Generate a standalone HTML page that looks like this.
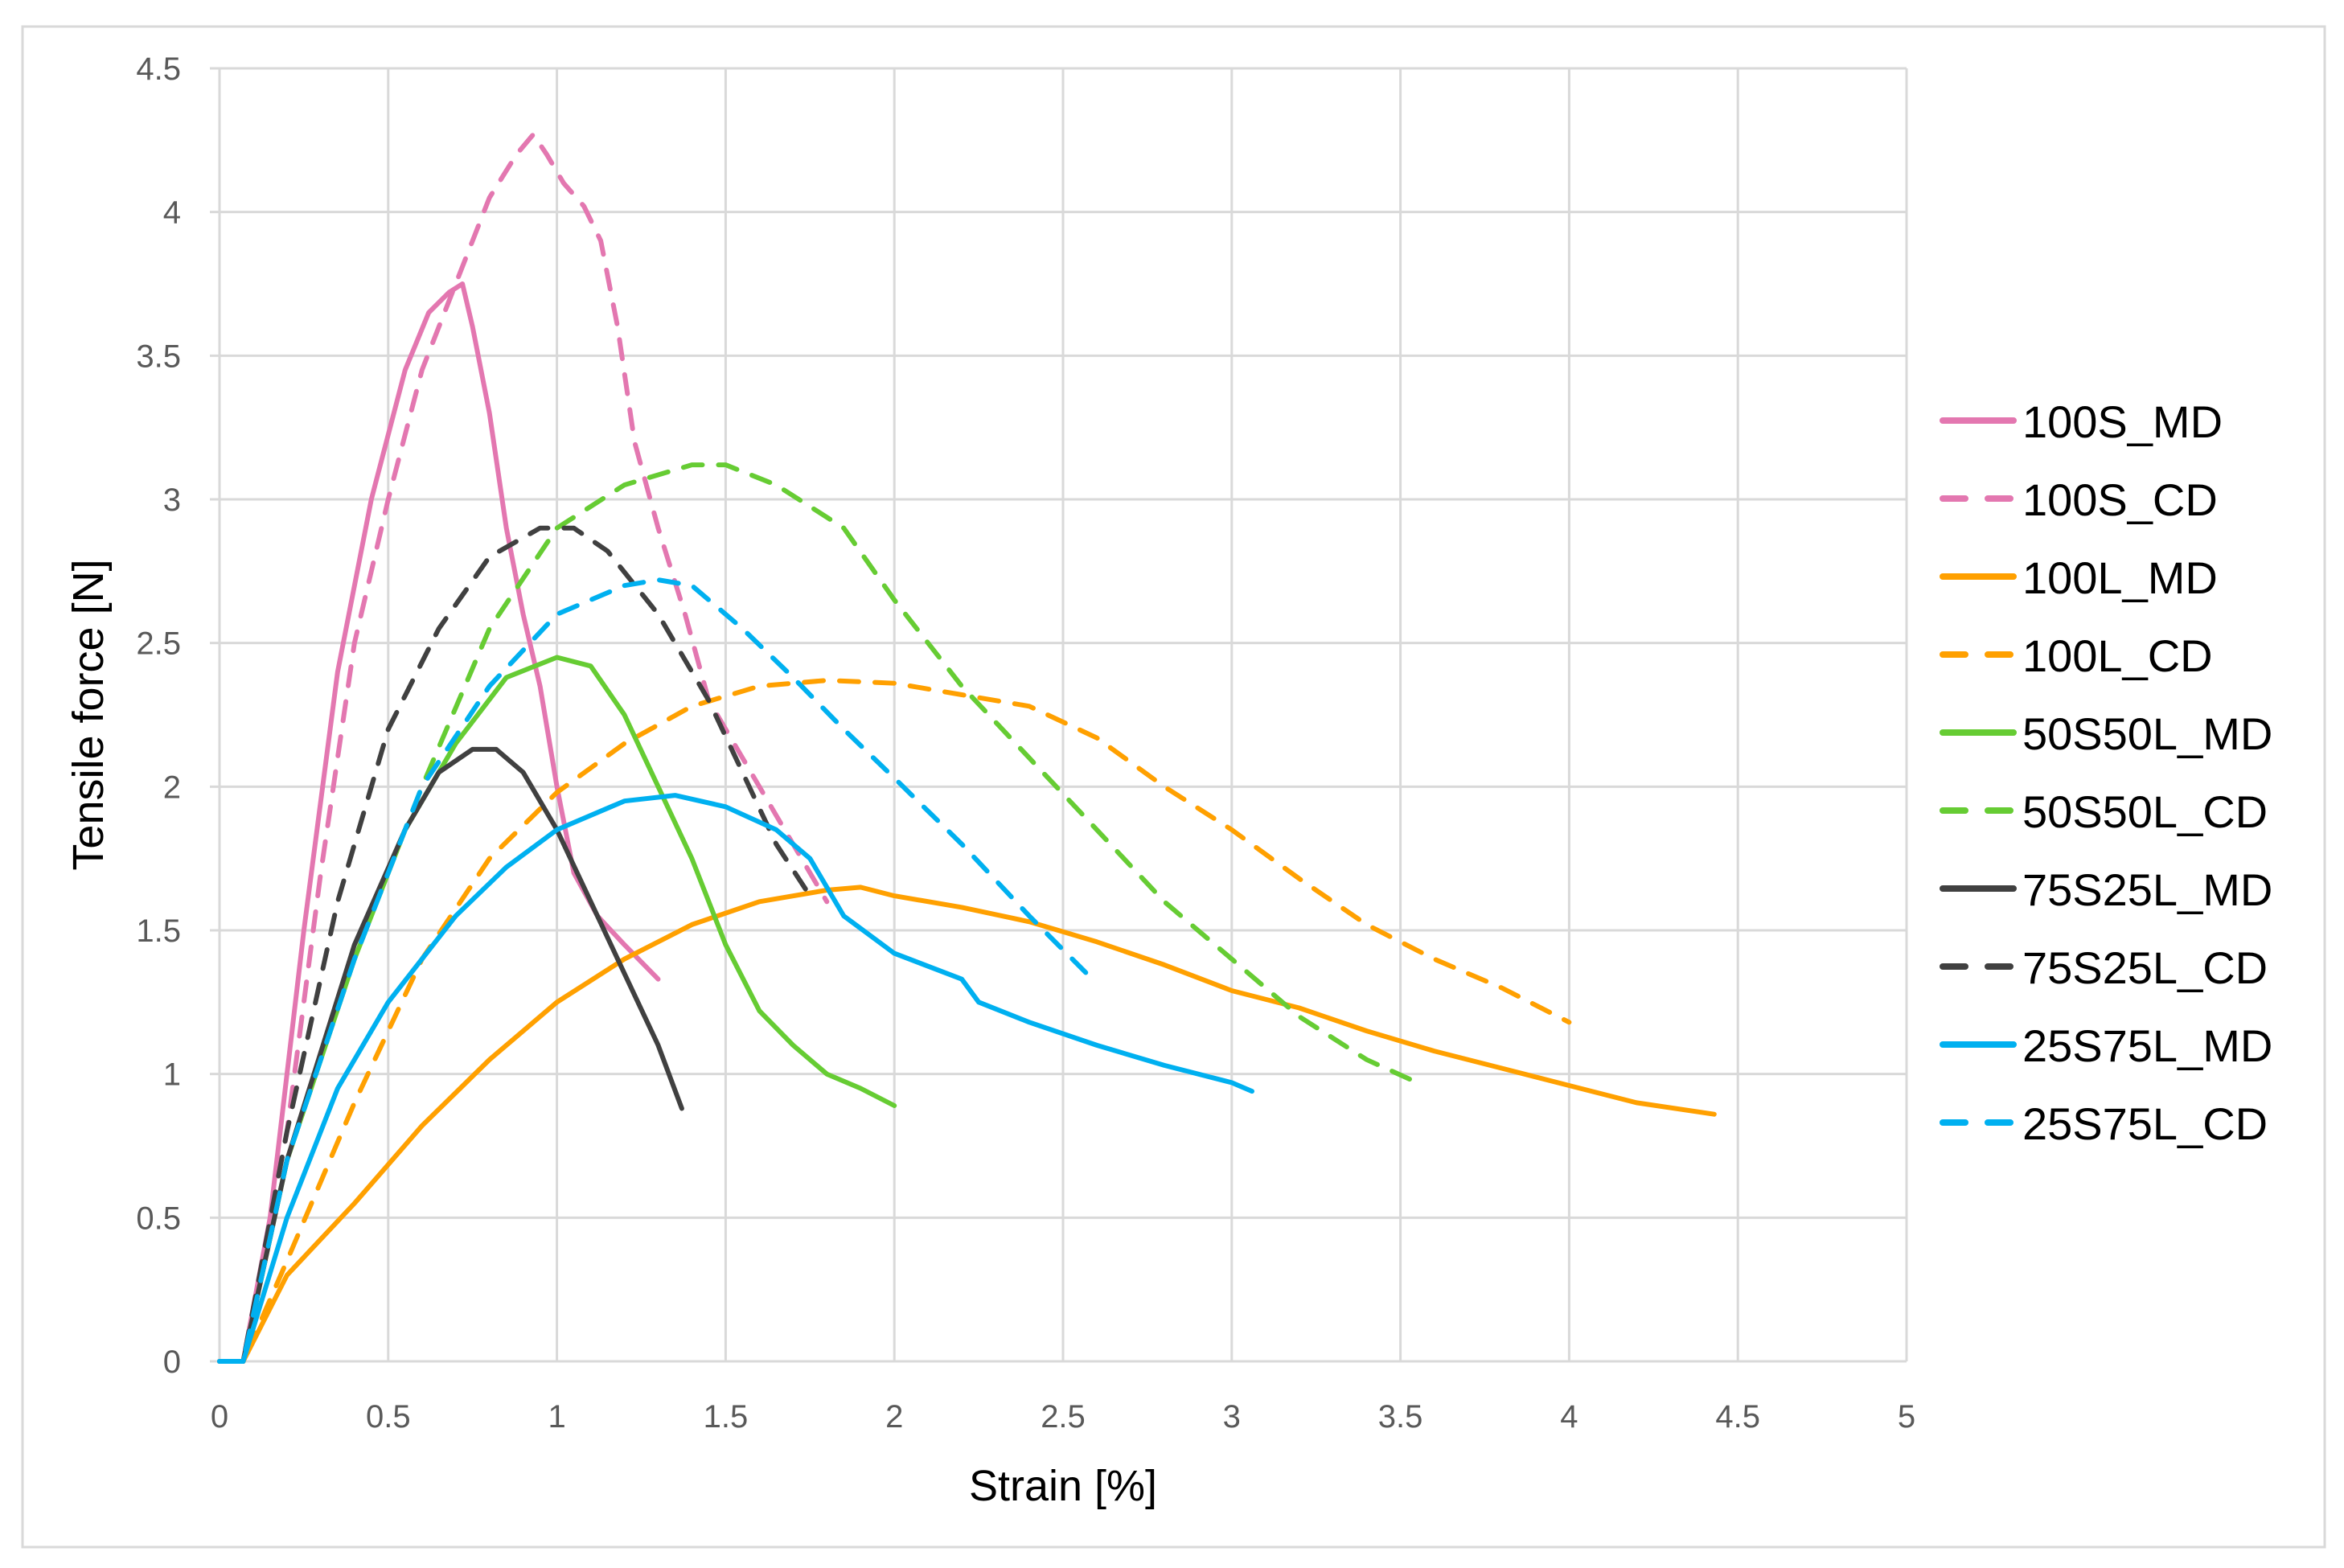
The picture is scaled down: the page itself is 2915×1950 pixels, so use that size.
<!DOCTYPE html>
<html><head><meta charset="utf-8"><style>
html,body{margin:0;padding:0;background:#fff;}
svg{display:block;font-family:"Liberation Sans",sans-serif;}
</style></head><body>
<svg id="chart" width="2915" height="1950" viewBox="0 0 2915 1950" xmlns="http://www.w3.org/2000/svg">
<rect x="28" y="33" width="2863" height="1891" fill="#fff" stroke="#d9d9d9" stroke-width="3"/>
<g id="grid"></g>
<g id="series"></g>
<g id="ticks"></g>
<g id="legend"></g>
<text transform="translate(128,889) rotate(-90)" text-anchor="middle" font-size="54" fill="#000">Tensile force [N]</text>
<text x="1322" y="1866" text-anchor="middle" font-size="54" fill="#000">Strain [%]</text>
</svg>
<script>
const xTicks=[0,0.5,1,1.5,2,2.5,3,3.5,4,4.5,5];
const yTicks=[0,0.5,1,1.5,2,2.5,3,3.5,4,4.5];
const seriesNames=["100S_MD","100S_CD","100L_MD","100L_CD","50S50L_MD","50S50L_CD","75S25L_MD","75S25L_CD","25S75L_MD","25S75L_CD"];
const s100S_MD_x=[0,0.07,0.15,0.25,0.35,0.45,0.55,0.62,0.68,0.72,0.75,0.8,0.85,0.9,0.95,1.0,1.05,1.12,1.2,1.3];
const s100S_MD_y=[0,0,0.5,1.5,2.4,3.0,3.45,3.65,3.72,3.75,3.6,3.3,2.9,2.6,2.35,2.0,1.7,1.55,1.45,1.33];
const s100S_CD_x=[0,0.07,0.2,0.3,0.4,0.5,0.6,0.7,0.8,0.88,0.93,0.97,1.02,1.08,1.13,1.18,1.23,1.3,1.38,1.45,1.55,1.65,1.75,1.8];
const s100S_CD_y=[0,0,0.8,1.7,2.5,3.0,3.45,3.75,4.05,4.2,4.27,4.2,4.1,4.02,3.9,3.6,3.2,2.9,2.6,2.3,2.1,1.9,1.7,1.6];
const s100L_MD_x=[0,0.07,0.2,0.4,0.6,0.8,1.0,1.2,1.4,1.6,1.8,1.9,2.0,2.2,2.4,2.6,2.8,3.0,3.2,3.4,3.6,3.8,4.0,4.2,4.43];
const s100L_MD_y=[0,0,0.3,0.55,0.82,1.05,1.25,1.4,1.52,1.6,1.64,1.65,1.62,1.58,1.53,1.46,1.38,1.29,1.23,1.15,1.08,1.02,0.96,0.9,0.86];
const s100L_CD_x=[0,0.07,0.2,0.4,0.6,0.8,1.0,1.2,1.4,1.6,1.8,2.0,2.2,2.4,2.6,2.8,3.0,3.2,3.4,3.6,3.8,4.0];
const s100L_CD_y=[0,0,0.35,0.9,1.4,1.75,1.98,2.15,2.28,2.35,2.37,2.36,2.32,2.28,2.17,2.0,1.85,1.68,1.52,1.4,1.3,1.18];
const s50S50L_MD_x=[0,0.07,0.2,0.4,0.55,0.7,0.85,1.0,1.1,1.2,1.3,1.4,1.5,1.6,1.7,1.8,1.9,2.0];
const s50S50L_MD_y=[0,0,0.7,1.4,1.85,2.15,2.38,2.45,2.42,2.25,2.0,1.75,1.45,1.22,1.1,1.0,0.95,0.89];
const s50S50L_CD_x=[0,0.07,0.2,0.4,0.6,0.8,1.0,1.2,1.4,1.5,1.65,1.85,2.0,2.2,2.4,2.6,2.8,3.0,3.2,3.4,3.55];
const s50S50L_CD_y=[0,0,0.7,1.4,2.0,2.55,2.9,3.05,3.12,3.12,3.05,2.9,2.65,2.35,2.1,1.85,1.6,1.4,1.2,1.05,0.97];
const s75S25L_MD_x=[0,0.07,0.2,0.4,0.55,0.65,0.75,0.82,0.9,1.0,1.1,1.2,1.3,1.37];
const s75S25L_MD_y=[0,0,0.7,1.45,1.85,2.05,2.13,2.13,2.05,1.85,1.6,1.35,1.1,0.88];
const s75S25L_CD_x=[0,0.07,0.2,0.35,0.5,0.65,0.8,0.95,1.05,1.15,1.3,1.45,1.55,1.65,1.75];
const s75S25L_CD_y=[0,0,0.8,1.6,2.2,2.55,2.8,2.9,2.9,2.82,2.6,2.3,2.05,1.8,1.62];
const s25S75L_MD_x=[0,0.07,0.2,0.35,0.5,0.7,0.85,1.0,1.2,1.35,1.5,1.65,1.75,1.85,2.0,2.2,2.25,2.4,2.6,2.8,3.0,3.06];
const s25S75L_MD_y=[0,0,0.5,0.95,1.25,1.55,1.72,1.85,1.95,1.97,1.93,1.85,1.75,1.55,1.42,1.33,1.25,1.18,1.1,1.03,0.97,0.94];
const s25S75L_CD_x=[0,0.07,0.2,0.4,0.6,0.8,1.0,1.2,1.3,1.4,1.55,1.7,1.85,2.0,2.2,2.4,2.57];
const s25S75L_CD_y=[0,0,0.7,1.4,2.0,2.35,2.6,2.7,2.72,2.7,2.55,2.38,2.2,2.03,1.8,1.55,1.35];

const X0=273,X1=2371,Y0=1693,Y1=85;
function sx(v){return X0+(v/5)*(X1-X0);}
function sy(v){return Y0-(v/4.5)*(Y0-Y1);}
const NS="http://www.w3.org/2000/svg";
function mk(tag,attrs,parent){const e=document.createElementNS(NS,tag);for(const k in attrs)e.setAttribute(k,attrs[k]);parent.appendChild(e);return e;}
const grid=document.getElementById('grid'),ticks=document.getElementById('ticks'),ser=document.getElementById('series'),leg=document.getElementById('legend');
xTicks.forEach(t=>{
 const l=mk('line',{x1:sx(t),x2:sx(t),y1:Y1,y2:Y0,stroke:'#d9d9d9','stroke-width':3},grid);
 
 
 const tx=mk('text',{x:sx(t),y:1775,'text-anchor':'middle','font-size':40,fill:'#595959'},ticks);
 tx.textContent=String(t);
 
 
});
yTicks.forEach(t=>{
 const l=mk('line',{x1:X0-12,x2:X1,y1:sy(t),y2:sy(t),stroke:'#d9d9d9','stroke-width':3},grid);
 
 
 const tx=mk('text',{x:225,y:sy(t)+14,'text-anchor':'end','font-size':40,fill:'#595959'},ticks);
 tx.textContent=String(t);
 
 
});
const series=[
 [s100S_MD_x,s100S_MD_y,'#e377b0',false],
 [s100S_CD_x,s100S_CD_y,'#e377b0',true],
 [s100L_MD_x,s100L_MD_y,'#ffa000',false],
 [s100L_CD_x,s100L_CD_y,'#ffa000',true],
 [s50S50L_MD_x,s50S50L_MD_y,'#66cc33',false],
 [s50S50L_CD_x,s50S50L_CD_y,'#66cc33',true],
 [s75S25L_MD_x,s75S25L_MD_y,'#404040',false],
 [s75S25L_CD_x,s75S25L_CD_y,'#404040',true],
 [s25S75L_MD_x,s25S75L_MD_y,'#00b0f0',false],
 [s25S75L_CD_x,s25S75L_CD_y,'#00b0f0',true]
];
series.forEach((s,i)=>{
 const pts=s[0].map((x,j)=>sx(x).toFixed(1)+','+sy(s[1][j]).toFixed(1)).join(' ');
 const a={points:pts,fill:'none',stroke:s[2],'stroke-width':6,'stroke-linejoin':'round','stroke-linecap':'round'};
 if(s[3])a['stroke-dasharray']='24 20';
 const p=mk('polyline',a,ser);
 
 
 const ly=523+i*97;
 const la={x1:2416,x2:2504,y1:ly,y2:ly,stroke:s[2],'stroke-width':8,'stroke-linecap':'round'};
 if(s[3])la['stroke-dasharray']='28 28';
 const ll=mk('line',la,leg);
 
 
 const lt=mk('text',{x:2515,y:ly+21,'font-size':56,fill:'#000'},leg);
 lt.textContent=seriesNames[i];
 
 
});
</script>
</body></html>
